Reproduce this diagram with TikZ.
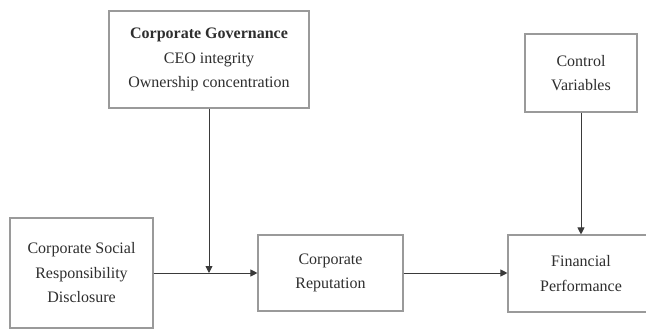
\documentclass[tikz,border=0pt]{standalone}
\usepackage{fontspec}
\setmainfont{Liberation Serif}
\usetikzlibrary{arrows.meta}
\definecolor{Frame}{HTML}{9A9A9A}
\definecolor{Ink}{HTML}{2E2E2E}
\definecolor{Wire}{HTML}{3A3A3A}

\begin{document}
\begin{tikzpicture}[x=1pt,y=-1pt,
  box/.style={draw=Frame,line width=1.1pt,fill=white,align=center,inner sep=2pt,
    text=Ink,font=\rmfamily\fontsize{16}{24.5}\selectfont},
  link/.style={Wire,line width=.9pt,-{Triangle[length=7pt,width=7pt]}}]
\useasboundingbox (0,0) rectangle (646,329);
% boxes
\node[box,minimum width=143pt,minimum height=110pt] (csr) at (81.5,273) {Corporate Social\\Responsibility\\Disclosure};
\node[box,minimum width=200pt,minimum height=97pt] (gov) at (209,59.5) {\textbf{Corporate Governance}\\CEO integrity\\Ownership concentration};
\node[box,minimum width=145pt,minimum height=76pt] (rep) at (330.5,273) {Corporate\\Reputation};
\node[box,minimum width=146pt,minimum height=77pt] (perf) at (581,273.5) {Financial\\Performance};
\node[box,minimum width=112pt,minimum height=78pt] (ctrl) at (581,73) {Control\\Variables};
% links
\coordinate (mod) at (gov.south |- csr.east);
\draw[link] (csr.east) -- (rep.west);
\draw[link] (gov.south) -- (mod);
\draw[link] (rep.east) -- (rep.east -| perf.west);
\draw[link] (ctrl.south) -- (perf.north);
\end{tikzpicture}
\end{document}
